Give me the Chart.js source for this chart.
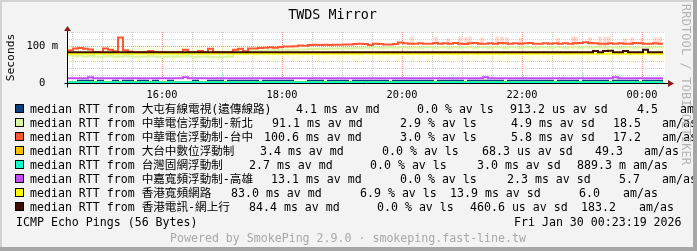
<!DOCTYPE html>
<html>
<head>
<meta charset="utf-8">
<script src="https://cdn.jsdelivr.net/npm/chart.js@4/dist/chart.umd.min.js"></script>
<style>
  html, body { margin: 0; padding: 0; }
  body {
    width: 697px; height: 251px; position: relative; overflow: hidden;
    background: #f3f3f3; color: #000;
    font-family: "DejaVu Sans Mono", "Noto Sans CJK TC", monospace; font-size: 11.6px;
  }
  #chart { position: absolute; left: 0; top: 0; }
  .t { position: absolute; white-space: pre; line-height: 14px; }
  .sw { position: absolute; left: 15px; width: 7px; height: 7px; border: 1px solid #000; }
  .foot { color: #a8a8a8; }
  #rrd { position: absolute; left: 679px; top: 4px; writing-mode: vertical-rl; color: #b4b4b4;
         white-space: pre; font-size: 12px; letter-spacing: 0.1px; }
  .edge { position: absolute; }
</style>
</head>
<body>
<canvas id="chart" width="697" height="251"></canvas>
<div id="legend"></div>
<div class="t" style="left:16px; top:215px;">ICMP Echo Pings (56 Bytes)</div>
<div class="t" style="left:514px; top:215px;">Fri Jan 30 00:23:19 2026</div>
<div class="t foot" style="left:170px; top:231px;">Powered by SmokePing 2.9.0 · smokeping.fast-line.tw</div>
<div id="rrd">RRDTOOL / TOBI OETIKER</div>
<div class="edge" style="left:0; top:0; width:697px; height:2px; background:#d2d2d2;"></div>
<div class="edge" style="left:0; top:0; width:2px; height:251px; background:#d2d2d2;"></div>
<div class="edge" style="left:693px; top:0; width:4px; height:251px; background:#a6a6a6;"></div>
<div class="edge" style="left:0; top:247px; width:697px; height:4px; background:#a6a6a6;"></div>
<script>
// sample times, minutes since the previous midnight (5 minute steps)
const times = Array.from({ length: 120 }, (_, i) => 866 + 5 * i);

const xGridTimes = [870, 900, 930, 960, 990, 1020, 1050, 1080, 1110, 1140, 1170, 1200,
                    1230, 1260, 1290, 1320, 1350, 1380, 1410, 1440];
const xTickLabels = { 960: '16:00', 1080: '18:00', 1200: '20:00', 1320: '22:00', 1440: '00:00' };
const yGridValues = [0, 20, 40, 60, 80, 100, 120, 140];
const yTickLabels = { 0: '0  ', 100: '100 m' };

const seriesNames = ['大屯有線電視(遠傳線路)', '中華電信浮動制-新北', '中華電信浮動制-台中', '大台中數位浮動制',
                     '台灣固網浮動制', '中嘉寬頻浮動制-高雄', '香港寬頻網路', '香港電訊-網上行'];
const seriesColors = ['#0a3f7e', '#d9f5a2', '#ff5733', '#ffc000', '#10ffc8', '#c44cf5', '#ffff00', '#3d0c04'];
const statMedian = ['4.1 ms', '91.1 ms', '100.6 ms', '3.4 ms', '2.7 ms', '13.1 ms', '83.0 ms', '84.4 ms'];
const statLoss = ['0.0 %', '2.9 %', '3.0 %', '0.0 %', '0.0 %', '0.0 %', '6.9 %', '0.0 %'];
const statSd = ['913.2 us', '4.9 ms', '5.8 ms', '68.3 us', '3.0 ms', '2.3 ms', '13.9 ms', '460.6 us'];
const statAmAs = ['4.5', '18.5', '17.2', '49.3', '889.3 m', '5.7', '6.0', '183.2'];

// median RTT, ms
const rttDatun = [
  2, 2, 6, 6, 6, 2, 6, 2, 2, 6, 2, 6, 6, 2, 6, 6, 2, 6, 2, 2,
  6, 2, 2, 2, 2, 6, 2, 2, 6, 6, 6, 2, 6, 6, 6, 6, 6, 6, 2, 6,
  6, 6, 6, 6, 6, 2, 2, 2, 6, 6, 6, 2, 6, 6, 6, 6, 2, 6, 6, 6,
  6, 6, 6, 6, 2, 6, 6, 6, 6, 6, 6, 6, 6, 2, 6, 6, 6, 6, 6, 2,
  6, 6, 6, 6, 6, 6, 6, 2, 6, 6, 6, 6, 6, 6, 6, 6, 6, 2, 6, 6,
  6, 6, 2, 6, 6, 6, 6, 6, 2, 6, 6, 6, 6, 6, 2, 6, 6, 6, 6, 6
];
const rttHinetNewTaipei = [
  76, 74, 75, 73, 74, 73, 72, 73, 74, 72, 73, 74, 73, 72, 72, 73, 74, 73, 72, 72,
  73, 72, 73, 74, 73, 72, 73, 73, 72, 71, 71, 72, 72, 84, 86, 86, 87, 88, 88, 89,
  90, 90, 91, 91, 90, 91, 92, 92, 93, 93, 94, 93, 94, 95, 95, 96, 95, 96, 96, 97,
  97, 98, 97, 97, 98, 97, 98, 98, 97, 98, 97, 98, 98, 97, 98, 98, 97, 98, 97, 98,
  98, 97, 98, 98, 97, 98, 98, 97, 98, 98, 97, 98, 98, 97, 98, 98, 97, 98, 98, 97,
  98, 98, 97, 98, 97, 98, 98, 97, 98, 98, 97, 98, 98, 97, 98, 98, 97, 98, 98, 97
];
const rttHinetTaichung = [
  90, 95, 96, 94, 92, 84.5, 84.5, 95, 91, 87, 125, 90, 86, 84.5, 84.5, 84.5, 88, 84.5, 84.5, 84.5,
  84.5, 84.5, 84.5, 91, 84.5, 84.5, 88, 84.5, 94, 84.5, 84.5, 84.5, 84.5, 91, 94, 87, 95, 95, 96, 97,
  98, 97, 99, 100, 100, 101, 103, 102, 104, 105, 104, 105, 104, 105, 105, 106, 106, 107, 108, 107,
  104, 108, 107, 106, 106, 107, 111, 109, 108, 108, 109, 108, 108, 110, 108, 109, 108, 110, 108, 107,
  109, 110, 108, 108, 109, 108, 110, 109, 108, 109, 108, 109, 110, 108, 108, 109, 108, 109, 108, 109,
  108, 109, 110, 112, 110, 109, 108, 108, 109, 108, 109, 108, 108, 110, 109, 108, 108, 109, 108, 108
];
const rttTaichungDigital = [
  1.8, 1.8, 1.8, 1.8, 1.8, 1.8, 1.8, 1.8, 1.8, 1.8, 1.8, 1.8, 1.8, 1.8, 1.8, 1.8, 1.8, 1.8, 1.8, 1.8,
  1.8, 1.8, 1.8, 1.8, 1.8, 1.8, 1.8, 1.8, 1.8, 1.8, 1.8, 1.8, 1.8, 1.8, 1.8, 1.8, 1.8, 1.8, 1.8, 1.8,
  1.8, 1.8, 1.8, 1.8, 1.8, 1.8, 1.8, 1.8, 1.8, 1.8, 1.8, 1.8, 1.8, 1.8, 1.8, 1.8, 1.8, 1.8, 1.8, 1.8,
  1.8, 1.8, 1.8, 1.8, 1.8, 1.8, 1.8, 1.8, 1.8, 1.8, 1.8, 1.8, 1.8, 1.8, 1.8, 1.8, 1.8, 1.8, 1.8, 1.8,
  1.8, 1.8, 1.8, 1.8, 1.8, 1.8, 1.8, 1.8, 1.8, 1.8, 1.8, 1.8, 1.8, 1.8, 1.8, 1.8, 1.8, 1.8, 1.8, 1.8,
  1.8, 1.8, 1.8, 1.8, 1.8, 1.8, 1.8, 1.8, 1.8, 1.8, 1.8, 1.8, 1.8, 1.8, 1.8, 1.8, 1.8, 1.8, 1.8, 1.8
];
const rttTfn = [
  2, 2, 2, 2, 2, 2, 2, 2, 2, 2, 2, 2, 2, 2, 2, 2, 2, 2, 2, 2,
  2, 2, 2, 2, 2, 2, 2, 2, 2, 2, 2, 2, 2, 2, 2, 2, 2, 2, 2, 2,
  2, 2, 2, 2, 2, 2, 2, 2, 2, 2, 2, 2, 2, 2, 2, 2, 2, 2, 2, 2,
  2, 2, 2, 2, 2, 2, 2, 2, 2, 2, 2, 2, 2, 2, 2, 2, 2, 2, 2, 2,
  2, 2, 2, 2, 2, 2, 2, 2, 2, 2, 2, 2, 2, 2, 2, 2, 2, 2, 2, 2,
  2, 2, 2, 2, 2, 2, 2, 2, 2, 2, 2, 2, 2, 2, 2, 2, 2, 2, 2, 2
];
const rttKbroKaohsiung = [
  13, 13, 13, 13, 15.5, 13, 13, 13, 13, 13, 13, 13, 13, 13, 13, 13, 13, 13, 13, 13,
  13, 13, 13, 15.5, 13, 13, 13, 13, 13, 13, 13, 13, 13, 13, 13, 13, 13, 13, 13, 13,
  13, 13, 13, 13, 13, 13, 13, 13, 13, 13, 13, 13, 13, 13, 13, 13, 13, 13, 13, 13,
  13, 13, 13, 13, 13, 13, 13, 13, 13, 13, 13, 13, 13, 13, 13, 13, 13, 13, 13, 13,
  13, 13, 13, 15.5, 13, 13, 13, 13, 13, 13, 13, 13, 13, 13, 13, 13, 13, 13, 13, 13,
  13, 13, 13, 13, 13, 13, 13, 13, 13, 15.5, 13, 13, 13, 13, 13, 13, 13, 13, 13, 13
];
const rttHkbn = [
  80.5, 80.5, 80, 80.5, 81, 80.5, 80.5, 80, 80.5, 80.5, 81, 80.5, 80.5, 80, 80.5, 80.5, 80.5, 81, 80.5, 80.5,
  80, 80.5, 80.5, 80.5, 81, 80.5, 80.5, 80, 80.5, 80.5, 80.5, 81, 80.5, 80.5, 80, 80.5, 80.5, 80.5, 81, 80.5,
  80.5, 80, 80.5, 80.5, 80.5, 81, 80.5, 80.5, 80, 80.5, 80.5, 80.5, 81, 80.5, 80.5, 80, 80.5, 80.5, 80.5, 81,
  80.5, 80.5, 80, 80.5, 80.5, 80.5, 81, 80.5, 80.5, 80, 80.5, 80.5, 80.5, 81, 80.5, 80.5, 80, 80.5, 80.5, 80.5,
  81, 80.5, 80.5, 80, 80.5, 80.5, 80.5, 81, 80.5, 80.5, 80, 80.5, 80.5, 80.5, 81, 80.5, 80.5, 80, 80.5, 80.5,
  80.5, 81, 80.5, 80.5, 80, 80.5, 80.5, 80.5, 81, 80.5, 80.5, 80, 80.5, 80.5, 80.5, 81, 80.5, 80.5, 80, 80.5
];
const rttPccw = [
  84.5, 84.5, 84.5, 84.5, 84.5, 84.5, 84.5, 84.5, 84.5, 84.5, 84.5, 84.5, 84.5, 84.5, 84.5, 84.5, 84.5, 84.5, 84.5, 84.5,
  84.5, 84.5, 84.5, 84.5, 84.5, 84.5, 84.5, 84.5, 84.5, 84.5, 84.5, 84.5, 84.5, 84.5, 84.5, 84.5, 84.5, 84.5, 84.5, 84.5,
  84.5, 84.5, 84.5, 84.5, 84.5, 84.5, 84.5, 84.5, 84.5, 84.5, 84.5, 84.5, 84.5, 84.5, 84.5, 84.5, 84.5, 84.5, 84.5, 84.5,
  84.5, 84.5, 84.5, 84.5, 84.5, 84.5, 84.5, 84.5, 84.5, 84.5, 84.5, 84.5, 84.5, 84.5, 84.5, 84.5, 84.5, 84.5, 84.5, 84.5,
  84.5, 84.5, 84.5, 84.5, 84.5, 84.5, 84.5, 84.5, 84.5, 84.5, 84.5, 84.5, 84.5, 84.5, 84.5, 84.5, 84.5, 84.5, 84.5, 84.5,
  84.5, 84.5, 84.5, 84.5, 84.5, 88, 84.5, 88, 88.5, 84.5, 84.5, 88, 84.5, 84.5, 84.5, 91, 84.5, 84.5, 84.5, 84.5
];

// smoke (ping spread), ms
const yellowSmokeHi = [
  100, 104, 96, 102, 98, 105, 94, 101, 99, 103, 97, 104, 95, 100, 102, 98, 105, 96, 101, 99,
  103, 95, 100, 104, 97, 102, 99, 105, 96, 101, 98, 103, 100, 96, 104, 99, 102, 97, 105, 100,
  98, 103, 96, 101, 104, 99, 97, 102, 100, 105, 96, 103, 99, 101, 98, 104, 100, 97, 102, 99,
  105, 98, 101, 96, 103, 100, 99, 104, 97, 102, 100, 98, 105, 101, 96, 103, 99, 102, 100, 97,
  104, 98, 101, 103, 99, 96, 102, 100, 105, 98, 101, 97, 103, 99, 104, 100, 96, 102, 98, 101,
  103, 99, 105, 97, 100, 102, 98, 104, 96, 101, 99, 103, 100, 97, 102, 98, 104, 100, 99, 101
];
const yellowSmokeLo = [
  62, 58, 66, 60, 70, 56, 64, 59, 68, 61, 57, 65, 63, 69, 58, 66, 60, 71, 62, 57,
  67, 59, 64, 61, 70, 56, 63, 68, 60, 65, 58, 66, 62, 69, 57, 64, 61, 67, 59, 70,
  63, 56, 65, 60, 68, 62, 58, 66, 61, 71, 57, 64, 60, 67, 63, 59, 69, 62, 56, 65,
  61, 68, 58, 64, 60, 70, 57, 63, 66, 59, 62, 69, 56, 65, 61, 67, 58, 64, 60, 71,
  63, 57, 66, 59, 68, 62, 60, 65, 56, 69, 61, 64, 58, 67, 63, 70, 57, 62, 66, 60,
  59, 65, 62, 68, 56, 64, 61, 69, 58, 63, 66, 60, 67, 57, 64, 62, 70, 59, 65, 61
];
const pinkSmokeTimes = [1210, 1234, 1246, 1258, 1264, 1268, 1280, 1295, 1300, 1305, 1319,
                        1356, 1371, 1374, 1388, 1398, 1403, 1407, 1423, 1430, 1440, 1453, 1458];
const pinkSmokeHi = [127, 126, 122, 127, 125, 127, 124, 127, 126, 125, 124,
                     123, 127, 126, 125, 127, 126, 127, 122, 124, 123, 125, 126];
const pinkSmokeLo = [104, 106, 105, 103, 106, 104, 105, 104, 106, 105, 104,
                     105, 104, 106, 104, 96, 100, 104, 105, 104, 106, 104, 105];
const aquaSmokeTimes = [1021, 1251, 1321, 1361, 1381, 1418];
const aquaSmokeHi = [28, 24, 26, 20, 30, 22];

const rttSeries = [rttDatun, rttHinetNewTaipei, rttHinetTaichung, rttTaichungDigital,
                   rttTfn, rttKbroKaohsiung, rttHkbn, rttPccw];

// legend, as html text
const rowTop = 102;
const rowStep = 14;
const colMedian = [296, 272, 264, 260, 249, 271, 231, 249];
const colLoss = [417, 400, 400, 382, 370, 400, 360, 377];
const colSd = [510, 511, 511, 482, 477, 507, 450, 470];
const colAm = [637, 613, 613, 595, 577, 619, 579, 581];
const colAs = [680, 662, 662, 644, 633, 662, 623, 639];

const legend = document.getElementById('legend');
seriesNames.forEach((name, i) => {
    const top = rowTop + i * rowStep;
    const parts = [
        [30, 'median RTT from ' + name],
        [colMedian[i], statMedian[i] + ' av md'],
        [colLoss[i], statLoss[i] + ' av ls'],
        [colSd[i], statSd[i] + ' av sd'],
        [colAm[i], statAmAs[i]],
        [colAs[i], 'am/as']
    ];
    let html = `<div class="sw" style="top:${top + 2}px; background:${seriesColors[i]}"></div>`;
    parts.forEach(p => {
        html += `<div class="t" style="left:${p[0]}px; top:${top}px">${p[1]}</div>`;
    });
    legend.insertAdjacentHTML('beforeend', html);
});

const mono = '"DejaVu Sans Mono", monospace';

const datasets = [];
datasets.push({
    type: 'bar',
    data: times.map((t, i) => ({ x: t, y: [yellowSmokeLo[i], yellowSmokeHi[i]] })),
    backgroundColor: 'rgba(255, 255, 0, 0.2)',
    barThickness: 2,
    grouped: false,
    order: 30
});
datasets.push({
    type: 'bar',
    data: pinkSmokeTimes.map((t, i) => ({ x: t, y: [pinkSmokeLo[i], pinkSmokeHi[i]] })),
    backgroundColor: 'rgba(255, 90, 50, 0.22)',
    barThickness: 3,
    grouped: false,
    order: 29
});
datasets.push({
    type: 'bar',
    data: aquaSmokeTimes.map((t, i) => ({ x: t, y: [2, aquaSmokeHi[i]] })),
    backgroundColor: 'rgba(0, 255, 200, 0.25)',
    barThickness: 1,
    grouped: false,
    order: 28
});
rttSeries.forEach((values, i) => {
    datasets.push({
        type: 'line',
        data: times.map((t, j) => ({ x: t, y: values[j] })),
        borderColor: seriesColors[i],
        borderWidth: 2,
        pointRadius: 0,
        stepped: 'before',
        fill: false,
        order: 10 - i
    });
});

const plotFrame = {
    id: 'plotFrame',
    beforeDraw(chart) {
        const a = chart.chartArea;
        chart.ctx.save();
        chart.ctx.fillStyle = '#fff';
        chart.ctx.fillRect(a.left, a.top, a.right - a.left, a.bottom - a.top);
        chart.ctx.restore();
    },
    afterDatasetsDraw(chart) {
        const ctx = chart.ctx;
        const x0 = Math.round(chart.scales.x.left) + 0.5;
        const y0 = Math.round(chart.scales.y.getPixelForValue(0)) + 0.5;
        const right = chart.scales.x.right;
        const top = chart.scales.y.top;
        ctx.save();
        ctx.strokeStyle = '#000';
        ctx.lineWidth = 1;
        ctx.beginPath();
        ctx.moveTo(x0, y0 + 4);
        ctx.lineTo(x0, top - 3);
        ctx.moveTo(x0 - 3, y0);
        ctx.lineTo(right + 4, y0);
        ctx.stroke();
        ctx.fillStyle = '#8b1c1c';
        ctx.beginPath();
        ctx.moveTo(x0 - 3.5, top - 1);
        ctx.lineTo(x0 + 3.5, top - 1);
        ctx.lineTo(x0, top - 6);
        ctx.closePath();
        ctx.fill();
        ctx.beginPath();
        ctx.moveTo(right + 3, y0 - 3.5);
        ctx.lineTo(right + 3, y0 + 3.5);
        ctx.lineTo(right + 9, y0);
        ctx.closePath();
        ctx.fill();
        ctx.restore();
    }
};

const chart = new Chart(document.getElementById('chart').getContext('2d'), {
    type: 'line',
    data: { datasets: datasets },
    plugins: [plotFrame],
    options: {
        responsive: false,
        animation: false,
        events: [],
        layout: { autoPadding: false, padding: { left: 0, right: 32, top: 0, bottom: 148 } },
        plugins: {
            legend: { display: false },
            tooltip: { enabled: false },
            title: {
                display: true,
                text: 'TWDS Mirror',
                color: '#000',
                font: { family: mono, size: 13.4, weight: 'normal', lineHeight: '16px' },
                padding: { top: 8, bottom: 8 }
            }
        },
        scales: {
            x: {
                type: 'linear',
                min: 865,
                max: 1463,
                offset: false,
                afterBuildTicks: s => { s.ticks = xGridTimes.map(v => ({ value: v })); },
                afterFit: s => { s.height = 20; },
                ticks: {
                    autoSkip: false,
                    maxRotation: 0,
                    padding: 6,
                    color: '#000',
                    font: { family: mono, size: 10.3 },
                    callback: v => xTickLabels[v] || ''
                },
                grid: {
                    drawTicks: false,
                    offset: false,
                    color: c => (c.tick && c.tick.value % 120 === 0) ? '#f09090' : '#cfcfcf'
                },
                border: { display: false, dash: [1, 1] }
            },
            y: {
                min: 0,
                max: 140,
                afterBuildTicks: s => { s.ticks = yGridValues.map(v => ({ value: v })); },
                afterFit: s => { s.width = 67; },
                ticks: {
                    autoSkip: false,
                    padding: 9,
                    color: '#000',
                    font: { family: mono, size: 10.5 },
                    callback: v => yTickLabels[v] || ''
                },
                grid: {
                    drawTicks: false,
                    color: c => {
                        if (!c.tick || c.tick.value === 0) return 'rgba(0,0,0,0)';
                        return c.tick.value === 100 ? '#f09090' : '#cfcfcf';
                    }
                },
                border: { display: false, dash: [1, 1] },
                title: {
                    display: true,
                    text: 'Seconds',
                    color: '#000',
                    font: { family: mono, size: 11.3 },
                    padding: { top: 4, bottom: 0 }
                }
            }
        }
    }
});

// pin the plot box to the reference frame (top 32, bottom 83)
const area = chart.chartArea;
const shiftTop = 32 - area.top;
const shiftBottom = area.bottom - 83;
if (Math.abs(shiftTop) > 0.2 || Math.abs(shiftBottom) > 0.2) {
    chart.options.plugins.title.padding = { top: 8, bottom: 8 + shiftTop };
    chart.options.layout.padding.bottom = 148 + shiftBottom - shiftTop;
    chart.update();
}
</script>
</body>
</html>
